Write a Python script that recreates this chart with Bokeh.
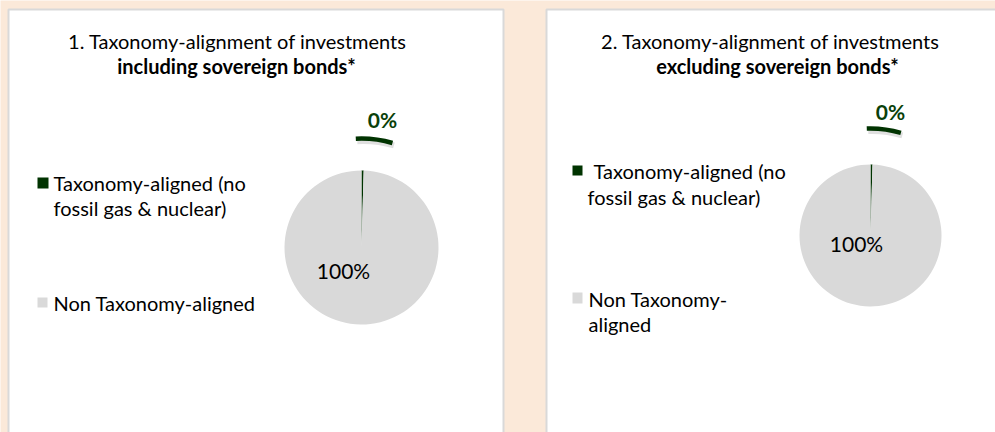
import math
from bokeh.plotting import figure
from bokeh.models import ColumnDataSource, Range1d
from bokeh.core.properties import value
from bokeh.embed import file_html
from bokeh.resources import INLINE

# ---- data ----
categories = ["Taxonomy-aligned (no fossil gas & nuclear)", "Non Taxonomy-aligned"]
incl_sovereign = [0.45, 99.55]   # % of investments, chart 1
excl_sovereign = [0.45, 99.55]   # % of investments, chart 2
titles = ["1. Taxonomy-alignment of investments", "2. Taxonomy-alignment of investments"]
subtitles = ["including sovereign bonds*", "excluding sovereign bonds*"]
legend_lines_1 = [["Taxonomy-aligned (no", "fossil gas & nuclear)"], ["Non Taxonomy-aligned"]]
legend_lines_2 = [["Taxonomy-aligned (no", "fossil gas & nuclear)"], ["Non Taxonomy-", "aligned"]]

# ---- style ----
W, H = 995, 432
BG = "#FBE9D9"
GREEN = "#003300"
GREY = "#D9D9D9"
LABEL_GREEN = "#0A3F0A"
FONT = "Lato"
colors = [GREEN, GREY]
T_SIZE = 20
L_SIZE = 20
P_SIZE = 21

def Y(y):  # pixel-from-top -> data y
    return H - y

p = figure(width=W, height=H, output_backend="svg", toolbar_location=None,
           x_range=Range1d(0, W), y_range=Range1d(0, H), min_border=0)
p.axis.visible = False
p.grid.visible = False
p.outline_line_color = None
p.background_fill_color = BG
p.border_fill_color = BG

# panels
p.quad(left=[8, 546], right=[503, 1005], top=[Y(9), Y(9)], bottom=[Y(445), Y(445)],
       fill_color="white", line_color="#D9D9D9", line_width=2)

def txt(x, y, s, size, bold=False, align="left", color="#000000"):
    p.text(x=[x], y=[Y(y)], text=[s], text_font=value(FONT), text_font_size=f"{size}px",
           text_font_style="bold" if bold else "normal", text_align=align,
           text_baseline="middle", text_color=color)

def pie(cx, cy, r, vals, lead):
    total = sum(vals)
    start = math.pi / 2
    angs = []
    for v in vals:
        a = 2 * math.pi * v / total
        angs.append((start - a, start))
        start -= a
    src = ColumnDataSource(dict(s=[a[0] for a in angs], e=[a[1] for a in angs], c=colors))
    p.wedge(x=cx, y=Y(cy), radius=r, start_angle="s", end_angle="e", fill_color="c",
            line_color=None, source=src)
    # leader line (with soft shadow)
    lr, a0, a1 = lead
    p.arc(x=cx + 1.5, y=Y(cy) - 2.5, radius=lr, start_angle=math.radians(a1), end_angle=math.radians(a0),
          line_color="#000000", line_alpha=0.12, line_width=6)
    p.arc(x=cx, y=Y(cy), radius=lr, start_angle=math.radians(a1), end_angle=math.radians(a0),
          line_color=GREEN, line_width=4.5)
    return [f"{round(v):.0f}%" for v in vals]

# chart 1
l1 = pie(361, 247, 77, incl_sovereign, (109, 93, 73.5))
txt(382, 119, l1[0], P_SIZE, bold=True, align="center", color=LABEL_GREEN)
txt(343, 270, l1[1], P_SIZE, align="center")
txt(237, 40, titles[0], T_SIZE, align="center")
txt(236, 65, subtitles[0], T_SIZE, bold=True, align="center")
p.quad(left=[37], right=[48], top=[Y(177)], bottom=[Y(188)], fill_color=GREEN, line_color=None)
txt(53, 182, legend_lines_1[0][0], L_SIZE)
txt(53, 207, legend_lines_1[0][1], L_SIZE)
p.quad(left=[37], right=[47], top=[Y(297)], bottom=[Y(307)], fill_color=GREY, line_color=None)
txt(53, 302, legend_lines_1[1][0], L_SIZE)

# chart 2
l2 = pie(870, 235, 71, excl_sovereign, (107, 92, 73.5))
txt(890, 111, l2[0], P_SIZE, bold=True, align="center", color=LABEL_GREEN)
txt(856, 243, l2[1], P_SIZE, align="center")
txt(770, 40, titles[1], T_SIZE, align="center")
txt(777, 65, subtitles[1], T_SIZE, bold=True, align="center")
p.quad(left=[572], right=[582], top=[Y(165)], bottom=[Y(175)], fill_color=GREEN, line_color=None)
txt(593, 170, legend_lines_2[0][0], L_SIZE)
txt(587, 196, legend_lines_2[0][1], L_SIZE)
p.quad(left=[572], right=[582], top=[Y(292)], bottom=[Y(303)], fill_color=GREY, line_color=None)
txt(588, 298, legend_lines_2[1][0], L_SIZE)
txt(588, 323, legend_lines_2[1][1], L_SIZE)

open("out.html", "w").write(file_html(p, INLINE))
